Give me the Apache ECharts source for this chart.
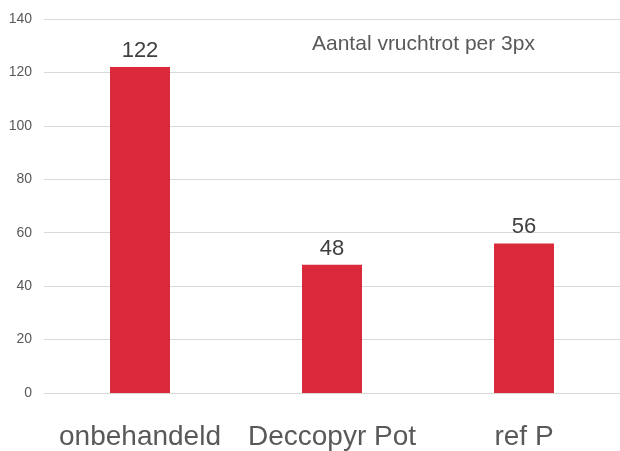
<!DOCTYPE html>
<html>
<head>
<meta charset="utf-8">
<script src="https://cdn.jsdelivr.net/npm/echarts@6/dist/echarts.min.js"></script>
<style>
  html, body { margin: 0; padding: 0; background: #fff; }
  #chart { width: 620px; height: 451px; }
</style>
</head>
<body>
<div id="chart"></div>
<script>
const categories = ["onbehandeld", "Deccopyr Pot", "ref P"];
const values = [122, 48, 56];
const titleText = "Aantal vruchtrot per 3px";

const chart = echarts.init(document.getElementById("chart"));

chart.setOption({
  animation: false,
  textStyle: { fontFamily: "Liberation Sans, Arial, sans-serif" },
  title: {
    text: titleText,
    left: 312,
    top: 34,
    padding: 0,
    textStyle: {
      fontSize: 21,
      fontWeight: "normal",
      color: "#595959"
    }
  },
  grid: {
    left: 44,
    right: -4,
    top: 19,
    bottom: 56,
    containLabel: false
  },
  xAxis: {
    type: "category",
    data: categories,
    axisLine: { lineStyle: { color: "#d9d9d9" } },
    axisTick: { show: false },
    axisLabel: {
      interval: 0,
      hideOverlap: false,
      fontSize: 28,
      color: "#595959",
      margin: 30
    }
  },
  yAxis: {
    type: "value",
    min: 0,
    max: 140,
    interval: 20,
    axisLine: { show: false },
    axisTick: { show: false },
    splitLine: { lineStyle: { color: "#d9d9d9" } },
    axisLabel: {
      fontSize: 14,
      color: "#595959",
      margin: 12
    }
  },
  series: [
    {
      type: "bar",
      data: values,
      barWidth: 60,
      itemStyle: { color: "#d9293b" },
      label: {
        show: true,
        position: "top",
        distance: 5,
        fontSize: 22,
        color: "#404040"
      }
    }
  ]
});
</script>
</body>
</html>
